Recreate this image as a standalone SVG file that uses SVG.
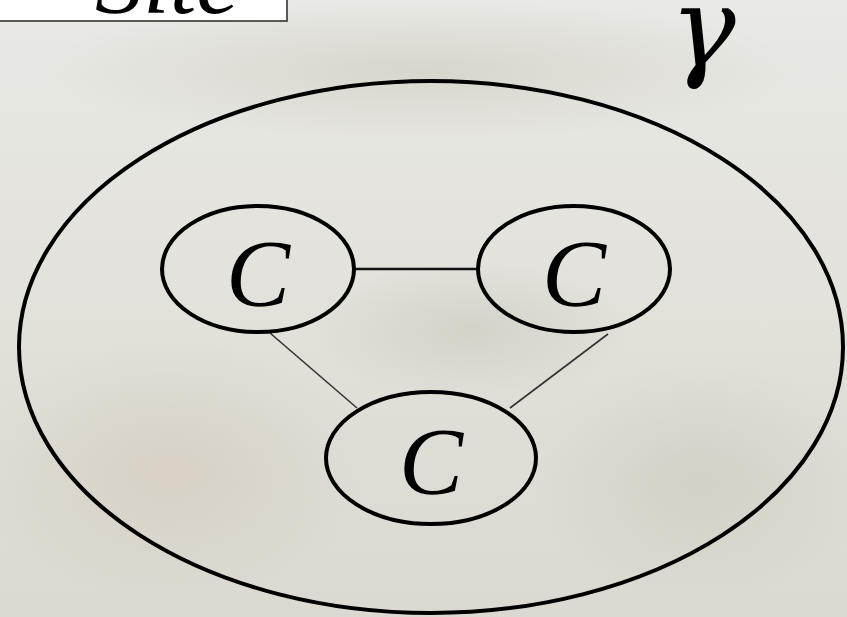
<svg xmlns="http://www.w3.org/2000/svg" width="847" height="617" viewBox="0 0 847 617">
  <defs>
    <linearGradient id="bg" x1="0" y1="0" x2="0" y2="1">
      <stop offset="0" stop-color="#e9e9e5"/>
      <stop offset="0.5" stop-color="#e2e1da"/>
      <stop offset="1" stop-color="#dbd9d0"/>
    </linearGradient>
    <radialGradient id="blob1" cx="0.5" cy="0.5" r="0.5">
      <stop offset="0" stop-color="#c9c8bb" stop-opacity="0.55"/>
      <stop offset="1" stop-color="#c9c8bb" stop-opacity="0"/>
    </radialGradient>
    <radialGradient id="blob2" cx="0.5" cy="0.5" r="0.5">
      <stop offset="0" stop-color="#d1c6b9" stop-opacity="0.55"/>
      <stop offset="1" stop-color="#d1c6b9" stop-opacity="0"/>
    </radialGradient>
  </defs>
  <style>
    .ring { fill: none; stroke: #000; stroke-width: 4; }
    .lbl { font-family: "Liberation Serif", "DejaVu Serif", serif; font-style: italic; fill: #000; }
    .c { font-size: 96px; text-anchor: middle; }
    .edge { stroke: #111; stroke-width: 2.5; }
    .thin { stroke: #333; stroke-width: 1.6; }
  </style>
  <rect width="847" height="617" fill="url(#bg)"/>
  <ellipse cx="420" cy="70" rx="380" ry="70" fill="url(#blob1)"/>
  <ellipse cx="170" cy="470" rx="200" ry="130" fill="url(#blob2)"/>
  <ellipse cx="700" cy="480" rx="170" ry="120" fill="url(#blob1)"/>
  <ellipse cx="470" cy="330" rx="160" ry="70" fill="url(#blob1)"/>

  <g id="site">
    <rect x="-2" y="-10" width="289" height="31" fill="#ffffff" stroke="#333" stroke-width="1.6"/>
    <text class="lbl" x="95" y="13" font-size="96">Site</text>
  </g>

  <g id="gamma">
    <text x="670" y="66" font-size="110" font-family="'DejaVu Serif', 'Liberation Serif', serif" font-style="italic" fill="#000">γ</text>
  </g>

  <g id="outer">
    <ellipse class="ring" cx="431" cy="347" rx="412" ry="266"/>
  </g>

  <g id="connectors">
    <line class="edge" x1="355" y1="269" x2="477" y2="269"/>
    <line class="thin" x1="270" y1="333" x2="357" y2="408"/>
    <line class="thin" x1="608" y1="334" x2="510" y2="408"/>
  </g>

  <g id="c1">
    <ellipse class="ring" cx="258" cy="269" rx="96" ry="63"/>
    <text class="lbl c" x="258" y="306">C</text>
  </g>
  <g id="c2">
    <ellipse class="ring" cx="574" cy="269" rx="96" ry="63"/>
    <text class="lbl c" x="574" y="306">C</text>
  </g>
  <g id="c3">
    <ellipse class="ring" cx="431" cy="458" rx="105" ry="66"/>
    <text class="lbl c" x="431" y="494">C</text>
  </g>
</svg>
